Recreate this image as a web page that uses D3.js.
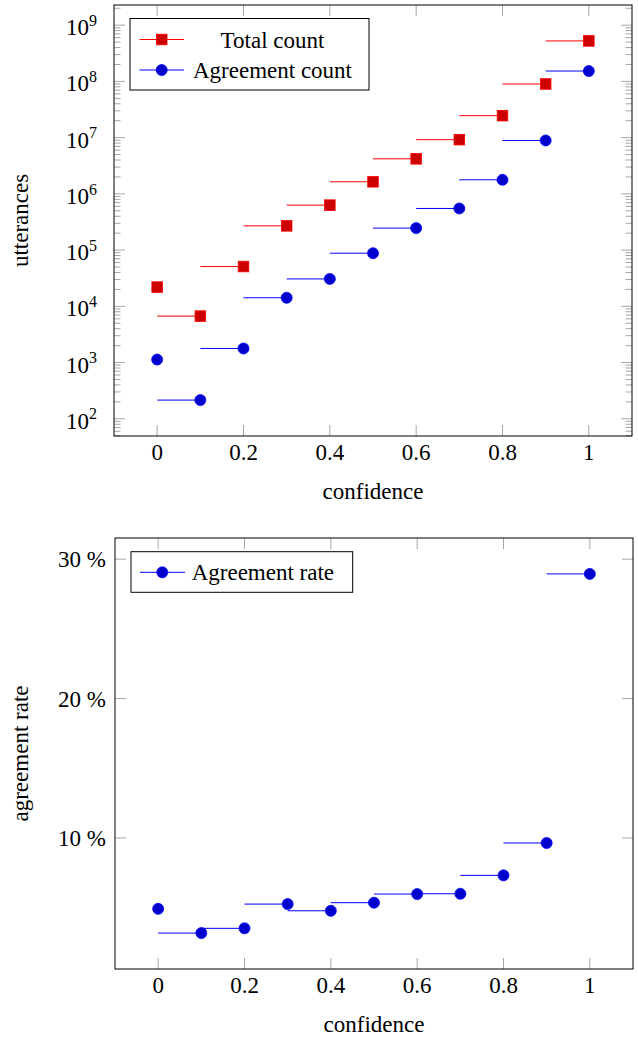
<!DOCTYPE html>
<html><head><meta charset="utf-8">
<script src="https://cdn.jsdelivr.net/npm/d3@7"></script>
<style>body{margin:0;background:#fff}svg{display:block}text{font-family:"Liberation Serif","Times New Roman",serif;fill:#000}</style>
</head><body>
<svg id="c" width="638" height="1038"></svg>
<script>
const confidence = [0, 0.1, 0.2, 0.3, 0.4, 0.5, 0.6, 0.7, 0.8, 0.9, 1.0];
const totalCount = [22000, 6700, 51000, 270000, 630000, 1640000, 4200000, 9200000, 24600000, 90000000, 525000000];
const agreementCount = [1130, 215, 1780, 14200, 30700, 88000, 246000, 550000, 1780000, 8900000, 153000000];
const agreementRate = [4.92, 3.18, 3.52, 5.26, 4.78, 5.36, 5.98, 6.0, 7.32, 9.64, 28.94];
const xTicks = [0, 0.2, 0.4, 0.6, 0.8, 1];
const xTickLabels = ["0", "0.2", "0.4", "0.6", "0.8", "1"];
const logExponents = [2, 3, 4, 5, 6, 7, 8, 9];
const rateTicks = [10, 20, 30];
const rateTickLabels = ["10 %", "20 %", "30 %"];
const seriesNames = ["Total count", "Agreement count"];
const rateName = "Agreement rate";

const svg = d3.select("#c");
const FS = 23;
const tickCol = "#a6a6a6";

function frame(g, p) {
  g.append("rect").attr("x", p.left).attr("y", p.top).attr("width", p.right - p.left).attr("height", p.bottom - p.top)
    .attr("fill", "none").attr("stroke", "#000").attr("stroke-width", 1);
}
function xAxis(g, x, p) {
  xTicks.forEach((t, i) => {
    const px = x(t);
    g.append("line").attr("x1", px).attr("x2", px).attr("y1", p.bottom).attr("y2", p.bottom - 11).attr("stroke", tickCol);
    g.append("line").attr("x1", px).attr("x2", px).attr("y1", p.top).attr("y2", p.top + 11).attr("stroke", tickCol);
    g.append("text").attr("x", px).attr("y", p.bottom + 24).attr("text-anchor", "middle").attr("font-size", FS).text(xTickLabels[i]);
  });
  g.append("text").attr("x", (p.left + p.right) / 2).attr("y", p.bottom + 63).attr("text-anchor", "middle").attr("font-size", FS).text("confidence");
}
function markers(g, kind, xs, ys, fill, stroke) {
  if (kind === "square") {
    g.selectAll(null).data(xs).enter().append("rect")
      .attr("x", d => d - 5.3).attr("y", (d, i) => ys[i] - 5.3).attr("width", 10.6).attr("height", 10.6)
      .attr("fill", fill).attr("stroke", stroke).attr("stroke-width", 0.8);
  } else {
    g.selectAll(null).data(xs).enter().append("circle")
      .attr("cx", d => d).attr("cy", (d, i) => ys[i]).attr("r", 5.5)
      .attr("fill", fill).attr("stroke", stroke).attr("stroke-width", 0.8);
  }
}
function steps(g, x, y, vals, color) {
  for (let i = 1; i < vals.length; i++) {
    g.append("line").attr("x1", x(confidence[i - 1])).attr("x2", x(confidence[i]))
      .attr("y1", y(vals[i])).attr("y2", y(vals[i])).attr("stroke", color).attr("stroke-width", 1);
  }
}

// ---------- Top panel ----------
const p1 = {left: 114, right: 632, top: 5, bottom: 436};
const x1 = d3.scaleLinear().domain([-0.1, 1.1]).range([p1.left, p1.right]);
const allCounts = totalCount.concat(agreementCount);
const lmin = Math.log10(d3.min(allCounts)), lmax = Math.log10(d3.max(allCounts));
const lr = lmax - lmin;
const y1 = d3.scaleLog().domain([Math.pow(10, lmin - 0.1 * lr), Math.pow(10, lmax + 0.1 * lr)]).range([p1.bottom, p1.top]);
const g1 = svg.append("g");
y1.ticks().forEach(v => {
  const py = y1(v);
  if (py < p1.top || py > p1.bottom) return;
  const isMajor = Math.abs(Math.log10(v) - Math.round(Math.log10(v))) < 1e-9;
  const len = isMajor ? 11 : 6.5;
  g1.append("line").attr("x1", p1.left).attr("x2", p1.left + len).attr("y1", py).attr("y2", py).attr("stroke", tickCol);
  g1.append("line").attr("x1", p1.right).attr("x2", p1.right - len).attr("y1", py).attr("y2", py).attr("stroke", tickCol);
});
logExponents.forEach(e => {
  const py = y1(Math.pow(10, e));
  const t = g1.append("text").attr("x", 97).attr("y", py + 10).attr("text-anchor", "end").attr("font-size", FS);
  t.append("tspan").text("10");
  t.append("tspan").attr("font-size", 16).attr("dy", -9.3).text(e);
});
xAxis(g1, x1, p1);
g1.append("text").attr("transform", `translate(28,${(p1.top + p1.bottom) / 2}) rotate(-90)`).attr("text-anchor", "middle").attr("font-size", FS).text("utterances");
steps(g1, x1, y1, totalCount, "#ff0000");
markers(g1, "square", confidence.map(x1), totalCount.map(y1), "#cc0000", "#ff0000");
steps(g1, x1, y1, agreementCount, "#0000ff");
markers(g1, "circle", confidence.map(x1), agreementCount.map(y1), "#0000cc", "#0000ff");
frame(g1, p1);
const lg = g1.append("g");
lg.append("rect").attr("x", 130).attr("y", 18.5).attr("width", 239).attr("height", 71.5).attr("fill", "#fff").attr("stroke", "#000");
[[39.5, "#ff0000", "#cc0000", "square"], [70, "#0000ff", "#0000cc", "circle"]].forEach((r, i) => {
  lg.append("line").attr("x1", 139.5).attr("x2", 184).attr("y1", r[0]).attr("y2", r[0]).attr("stroke", r[1]);
  markers(lg, r[3], [161.7], [r[0]], r[2], r[1]);
  lg.append("text").attr("x", 272.5).attr("y", r[0] + 8).attr("text-anchor", "middle").attr("font-size", FS).text(seriesNames[i]);
});

// ---------- Bottom panel ----------
const p2 = {left: 115, right: 633, top: 538, bottom: 969};
const x2 = d3.scaleLinear().domain([-0.1, 1.1]).range([p2.left, p2.right]);
const rmin = d3.min(agreementRate), rmax = d3.max(agreementRate), rr = rmax - rmin;
const y2 = d3.scaleLinear().domain([rmin - 0.1 * rr, rmax + 0.1 * rr]).range([p2.bottom, p2.top]);
const g2 = svg.append("g");
rateTicks.forEach((v, i) => {
  const py = y2(v);
  g2.append("line").attr("x1", p2.left).attr("x2", p2.left + 11).attr("y1", py).attr("y2", py).attr("stroke", tickCol);
  g2.append("line").attr("x1", p2.right).attr("x2", p2.right - 11).attr("y1", py).attr("y2", py).attr("stroke", tickCol);
  g2.append("text").attr("x", 106).attr("y", py + 8).attr("text-anchor", "end").attr("font-size", FS).text(rateTickLabels[i]);
});
xAxis(g2, x2, p2);
g2.append("text").attr("transform", `translate(28,${(p2.top + p2.bottom) / 2}) rotate(-90)`).attr("text-anchor", "middle").attr("font-size", FS).text("agreement rate");
steps(g2, x2, y2, agreementRate, "#0000ff");
markers(g2, "circle", confidence.map(x2), agreementRate.map(y2), "#0000cc", "#0000ff");
frame(g2, p2);
const lg2 = g2.append("g");
lg2.append("rect").attr("x", 131).attr("y", 551.7).attr("width", 221.7).attr("height", 40.6).attr("fill", "#fff").attr("stroke", "#000");
lg2.append("line").attr("x1", 140).attr("x2", 185).attr("y1", 572.3).attr("y2", 572.3).attr("stroke", "#0000ff");
markers(lg2, "circle", [162.3], [572.3], "#0000cc", "#0000ff");
lg2.append("text").attr("x", 191.7).attr("y", 580.3).attr("font-size", FS).text(rateName);
</script>
</body></html>
